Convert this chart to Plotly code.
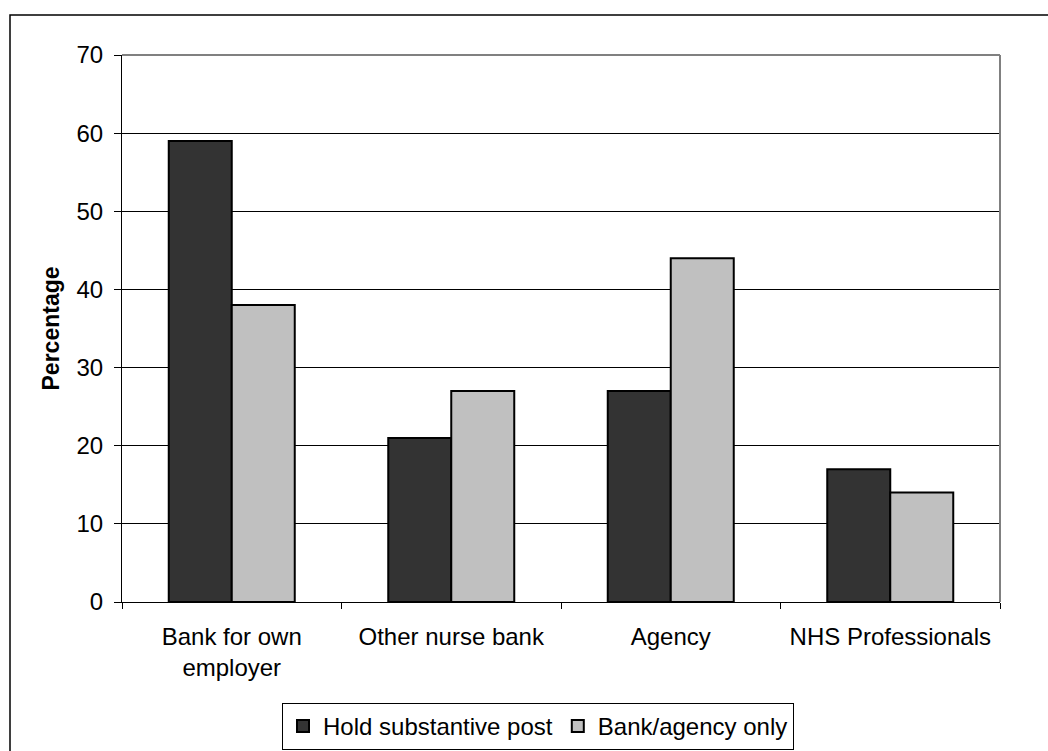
import plotly.graph_objects as go

# Survey data: where staff take up additional shifts
categories = ["Bank for own<br>employer", "Other nurse bank", "Agency", "NHS Professionals"]
hold_substantive = [59, 21, 27, 17]
bank_agency_only = [38, 27, 44, 14]
series_names = ["Hold substantive post", "Bank/agency only"]
y_ticks = [0, 10, 20, 30, 40, 50, 60, 70]

W, H = 1048, 751
L, R, T, B = 122, 48, 55, 149
pw, ph = W - L - R, H - T - B

font = "Liberation Sans, Arial, sans-serif"

fig = go.Figure()
fig.add_trace(go.Bar(
    x=categories, y=hold_substantive, name=series_names[0],
    marker=dict(color="#333333", line=dict(color="#000000", width=2)),
))
fig.add_trace(go.Bar(
    x=categories, y=bank_agency_only, name=series_names[1],
    marker=dict(color="#c0c0c0", line=dict(color="#000000", width=2)),
))

def px_x(x):
    return (x - L) / pw

def px_y(y):
    return (H - B - y) / ph

shapes = [
    # frame around the whole chart
    dict(type="rect", xref="paper", yref="paper",
         x0=px_x(10), x1=px_x(1070), y0=px_y(770), y1=px_y(15),
         line=dict(color="#000000", width=1.5), layer="below"),
    # grey plot-area border on top and right
    dict(type="line", xref="paper", yref="paper", x0=0, x1=1, y0=1, y1=1,
         line=dict(color="#808080", width=2), layer="above"),
    dict(type="line", xref="paper", yref="paper", x0=1, x1=1, y0=0, y1=1,
         line=dict(color="#808080", width=2), layer="above"),
]

fig.update_layout(
    width=W, height=H,
    margin=dict(l=L, r=R, t=T, b=B, pad=0, autoexpand=False),
    paper_bgcolor="white", plot_bgcolor="white",
    barmode="group", bargap=0.426, bargroupgap=0,
    font=dict(family=font, size=24, color="#000000"),
    shapes=shapes,
    showlegend=True,
    legend=dict(
        orientation="h", x=538 / W, xanchor="center", xref="container",
        y=1 - 703 / H, yanchor="top", yref="container",
        bordercolor="#000000", borderwidth=1,
        font=dict(family=font, size=24, color="#000000"),
        itemwidth=30, tracegroupgap=0, itemsizing="constant",
    ),
    xaxis=dict(
        type="category", showline=True, linecolor="#000000", linewidth=1,
        ticks="outside", tickson="boundaries", ticklen=6, tickcolor="#000000",
        showgrid=False, tickfont=dict(size=24), zeroline=False,
        ticklabelstandoff=13, automargin=False,
    ),
    yaxis=dict(
        range=[0, 70], tickvals=y_ticks, showline=True, linecolor="#000000",
        linewidth=1, ticks="outside", ticklen=7, tickcolor="#000000",
        showgrid=True, gridcolor="#000000", gridwidth=1, zeroline=False,
        tickfont=dict(size=24), ticklabelstandoff=6, automargin=False,
        title=dict(text="<b>Percentage</b>", font=dict(size=23), standoff=10),
    ),
)

fig.write_html("out.html")
